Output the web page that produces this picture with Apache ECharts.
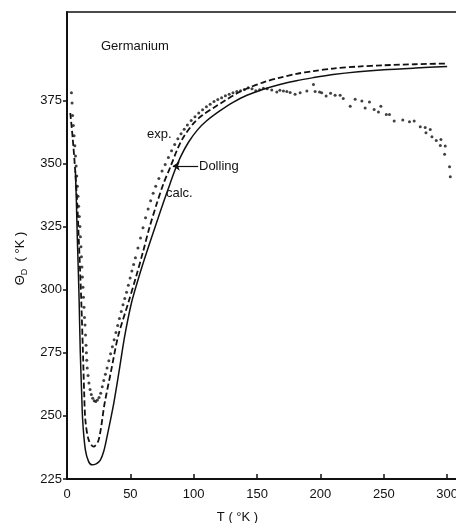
<!DOCTYPE html>
<html>
<head>
<meta charset="utf-8">
<script src="https://cdn.jsdelivr.net/npm/echarts@6/dist/echarts.min.js"></script>
<style>
html, body { margin: 0; padding: 0; background: #fff; }
#chart { width: 456px; height: 523px; }
</style>
</head>
<body>
<div id="chart"></div>
<script>
// Debye temperature of germanium vs T
var xTicks = [0, 50, 100, 150, 200, 250, 300];
var yTicks = [225, 250, 275, 300, 325, 350, 375];

// calc. (solid)
var calcCurve = [
    [6.6, 347], [7.4, 335], [8.1, 321], [8.9, 308], [9.6, 295], [10.5, 275],
    [11.5, 260], [12.4, 248], [14.5, 236.5], [17, 232], [19.7, 230.6], [23, 231],
    [26.3, 232.5], [29, 236], [31.6, 241.8], [36.9, 255], [41.3, 268.3], [45.5, 281.5],
    [51, 295], [57, 305.5], [63, 315], [70, 325.5], [76, 334.4], [81, 341.5],
    [85.3, 347.5], [90, 353], [96, 358.5], [103, 363.3], [110, 366.8], [120, 370.6],
    [131, 374.2], [142, 377], [155, 379.4], [168, 381.3], [181, 382.8], [194.5, 384],
    [210, 385.2], [230, 386.3], [250, 387.1], [275, 387.8], [300, 388.4]
];

// Dolling (dashed)
var dollingCurve = [
    [2.6, 370], [4.5, 360], [6.5, 347], [8.1, 334], [9.3, 320], [10.3, 308],
    [11.3, 295], [12.6, 275], [13.5, 260], [14.5, 248.4], [17.1, 240.5], [21, 237.8],
    [25, 240.5], [29.7, 255], [35, 268.3], [40.3, 281.5], [48.5, 295], [55, 306],
    [60, 315], [65, 324.5], [70.8, 334], [76, 341.8], [81.9, 349], [87, 355.5],
    [92, 360.5], [100, 366], [107, 369.2], [115.5, 372], [125, 375], [135, 378],
    [144.5, 380.2], [156, 382.3], [168.2, 384], [181, 385.5], [194.5, 386.6],
    [210, 387.6], [230, 388.4], [250, 388.9], [275, 389.3], [300, 389.6]
];

// exp. (dots)
var expPoints = [
    [3.5, 378], [4.0, 374], [4.4, 369], [5.0, 365], [5.6, 361], [6.2, 357], [6.7, 353],
    [7.2, 349], [7.7, 345], [8.2, 341], [8.7, 337], [9.2, 333], [9.7, 329], [10.2, 325],
    [10.6, 321], [11.0, 317], [11.4, 313], [11.8, 309], [12.2, 305], [12.6, 301],
    [13.0, 297], [13.4, 293], [13.8, 289], [14.2, 286], [14.6, 282], [15.0, 278],
    [15.3, 275], [15.6, 272], [16.0, 269], [16.6, 266], [17.3, 263], [18.2, 260.5],
    [19.2, 258.5], [20.3, 257], [21.5, 256], [22.7, 255.7], [24.0, 256.3], [25.3, 257.3],
    [26.6, 259], [27.8, 261.5], [29.0, 264], [30.3, 266.5], [31.6, 269], [33.0, 271.8],
    [34.4, 274.6], [35.8, 277.4], [37.2, 280.2], [38.6, 283], [40.0, 285.8], [41.4, 288.6],
    [42.8, 291.4], [44.2, 294], [45.6, 296.5], [47.0, 299], [48.4, 301.8], [49.8, 304.6],
    [51.2, 307.4], [52.6, 310], [54.0, 312.6], [56, 316.5], [58, 320.5], [60, 324.5],
    [62, 328.5], [64, 332], [66, 335.2], [68, 338.2], [70, 341], [72.5, 344], [75, 347],
    [77.5, 349.6], [80, 352.4], [82.5, 355], [85, 357.5], [87.5, 359.8], [90, 361.8],
    [92.5, 363.6], [95, 365.2], [98, 367], [101, 368.5], [104, 370], [107, 371.3],
    [110, 372.5], [113, 373.5], [116, 374.5], [119, 375.3], [122, 376], [125, 376.8],
    [128, 377.4], [131, 378], [134, 378.5], [137, 378.8], [140, 379.3], [143, 380],
    [146, 379.6], [149, 378.8], [152, 379.2], [155, 379.8], [158, 379.6], [161.6, 379.1],
    [165.6, 378.3], [168, 379], [170.8, 378.7], [173.5, 378.5], [176.1, 378.1], [180, 377.4],
    [184, 378], [189.3, 378.7], [194.5, 381.3], [195.8, 378.5], [199.3, 378.3], [201, 378],
    [204.5, 376.7], [208, 377.8], [211.6, 377], [215.6, 377], [218, 375.7], [223.5, 372.7],
    [227.4, 375.4], [232.7, 374.7], [235.3, 372], [238.7, 374.3], [242.4, 371.4],
    [245.8, 370.4], [247.7, 372.7], [252, 369.4], [254.5, 369.4], [258.2, 366.8],
    [265, 367.2], [270.3, 366.5], [274, 366.8], [278.8, 364.5], [282.7, 364.2],
    [283.3, 362.2], [286.7, 363.5], [288, 360.6], [291.4, 359.1], [295.1, 359.5],
    [294.6, 357.1], [298.5, 356.9], [298, 353.6], [301.9, 348.7], [302.5, 344.7]
];

var fontFam = 'Liberation Sans, Arial, sans-serif';

var myChart = echarts.init(document.getElementById('chart'));
var option = {
    animation: false,
    backgroundColor: '#fff',
    title: {
        text: 'Germanium',
        left: 96,
        top: 35,
        textStyle: { fontFamily: fontFam, fontSize: 13, fontWeight: 'normal', color: '#111' }
    },
    grid: { left: 67, right: 0, top: 12, bottom: 44, containLabel: false, outerBoundsMode: 'none' },
    xAxis: [
        {
            type: 'value',
            min: 0,
            max: 307,
            interval: 50,
            name: 'T ( °K )',
            nameLocation: 'middle',
            nameGap: 32,
            nameTextStyle: { fontFamily: fontFam, fontSize: 13, color: '#111', padding: [0, 48, 0, 0] },
            axisLine: { show: true, onZero: false, lineStyle: { color: '#111', width: 2 } },
            axisTick: { show: true, inside: true, length: 5, lineStyle: { color: '#111', width: 1.5 }, customValues: xTicks.slice(1) },
            axisLabel: { fontFamily: fontFam, fontSize: 13, color: '#111', margin: 9, customValues: xTicks },
            splitLine: { show: false }
        },
        {
            type: 'value',
            position: 'top',
            min: 0,
            max: 307,
            axisLine: { show: true, onZero: false, lineStyle: { color: '#111', width: 1.5 } },
            axisTick: { show: false },
            axisLabel: { show: false },
            splitLine: { show: false }
        }
    ],
    yAxis: {
        type: 'value',
        min: 225,
        max: 410,
        interval: 25,
        name: '{t|Θ}{s|D}{t|  ( °K )}',
        nameLocation: 'middle',
        nameGap: 37,
        nameTextStyle: {
            padding: [0, 26, 0, 0],
            rich: {
                t: { fontFamily: fontFam, fontSize: 13, color: '#111', lineHeight: 18 },
                s: { fontFamily: fontFam, fontSize: 9, color: '#111', lineHeight: 10, verticalAlign: 'bottom' }
            }
        },
        axisLine: { show: true, lineStyle: { color: '#111', width: 2 } },
        axisTick: { show: true, length: 4, lineStyle: { color: '#111', width: 1.5 }, customValues: yTicks },
        axisLabel: { fontFamily: fontFam, fontSize: 13, color: '#111', margin: 5, customValues: yTicks },
        splitLine: { show: false }
    },
    graphic: [
        { type: 'text', left: 147, top: 128, style: { text: 'exp.', font: '13px ' + fontFam, fill: '#111' } },
        { type: 'text', left: 199, top: 160, style: { text: 'Dolling', font: '13px ' + fontFam, fill: '#111' } },
        { type: 'text', left: 166, top: 187, style: { text: 'calc.', font: '13px ' + fontFam, fill: '#111' } }
    ],
    series: [
        {
            name: 'calc.',
            type: 'line',
            data: calcCurve,
            smooth: 0.3,
            symbol: 'none',
            lineStyle: { color: '#111', width: 1.5 }
        },
        {
            name: 'Dolling',
            type: 'line',
            data: dollingCurve,
            smooth: 0.3,
            symbol: 'none',
            lineStyle: { color: '#111', width: 1.8, type: [6, 3] },
            markLine: {
                silent: true,
                symbol: ['none', 'arrow'],
                symbolSize: 7,
                label: { show: false },
                lineStyle: { color: '#111', width: 1.2, type: 'solid' },
                data: [[{ coord: [103.5, 349] }, { coord: [83.5, 349] }]]
            }
        },
        {
            name: 'exp.',
            type: 'scatter',
            data: expPoints,
            symbol: 'circle',
            symbolSize: 3,
            itemStyle: { color: '#111' }
        }
    ]
};
myChart.setOption(option);
</script>
</body>
</html>
